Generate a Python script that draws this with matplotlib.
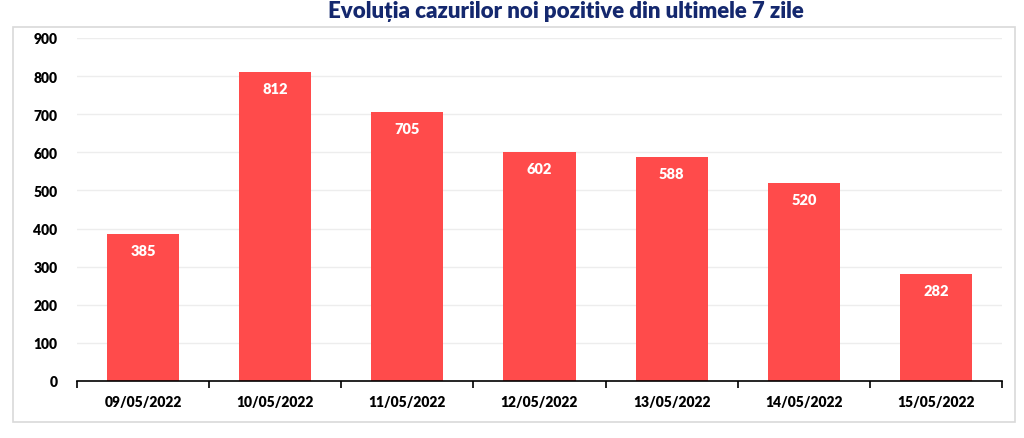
import matplotlib
matplotlib.use("Agg")
import matplotlib.pyplot as plt
from matplotlib.patches import Rectangle

dates = ["09/05/2022", "10/05/2022", "11/05/2022", "12/05/2022",
         "13/05/2022", "14/05/2022", "15/05/2022"]
cases = [385, 812, 705, 602, 588, 520, 282]
yticks = [0, 100, 200, 300, 400, 500, 600, 700, 800, 900]
title = "Evoluția cazurilor noi pozitive din ultimele 7 zile"

plt.rcParams['font.family'] = ['Lato', 'DejaVu Sans']

W, H = 1024, 439
fig = plt.figure(figsize=(W/100, H/100), dpi=100)
fig.patch.set_facecolor("white")

# outer frame
fig.add_artist(Rectangle((13/W, 1-423/H), (1015-13)/W, (423-28)/H,
                         transform=fig.transFigure, fill=False,
                         edgecolor="#D9D9D9", linewidth=1.2))

ax = fig.add_axes([77/W, 1-382/H, (1002-77)/W, (382-39)/H])
x = list(range(len(dates)))
bars = ax.bar(x, cases, width=0.545, color="#FF4B4B", zorder=3)
for xi, v in zip(x, cases):
    ax.annotate(str(v), (xi, v), xytext=(0, -12), textcoords="offset points",
                ha="center", va="center", color="white", fontsize=10.5,
                fontweight="heavy", zorder=4)

ax.set_xlim(-0.5, len(dates)-0.5)
ax.set_ylim(0, 900)
ax.set_yticks(yticks)
ax.set_yticklabels([str(t) for t in yticks], fontsize=10, fontweight="heavy")
ax.set_xticks(x)
ax.set_xticklabels(dates, fontsize=10, fontweight="heavy")
ax.tick_params(axis="x", length=0, pad=10)
ax.tick_params(axis="y", length=0, pad=14)
# boundary tick marks
ax.set_xticks([i - 0.5 for i in range(len(dates)+1)], minor=True)
ax.tick_params(axis="x", which="minor", length=5, width=1.2, color="black", direction="out")

ax.grid(axis="y", color="#EDEDED", linewidth=1, zorder=0)
for s in ["top", "right", "left"]:
    ax.spines[s].set_visible(False)
ax.spines["bottom"].set_color("black")
ax.spines["bottom"].set_linewidth(1.2)
ax.spines["bottom"].set_zorder(5)

fig.text(566/W, 1-12/H, title, ha="center", va="center", fontsize=16,
         fontweight="heavy", color="#14286E")

fig.savefig("out.png", dpi=100, facecolor="white")
